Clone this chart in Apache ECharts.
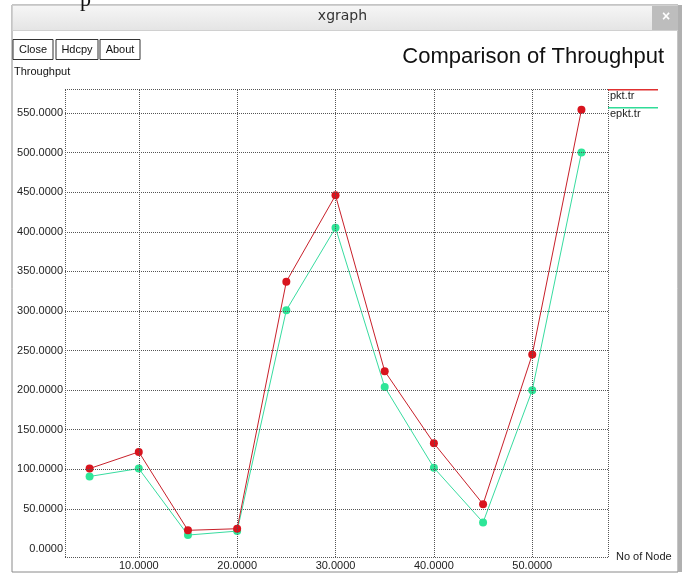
<!DOCTYPE html>
<html>
<head>
<meta charset="utf-8">
<script src="https://cdn.jsdelivr.net/npm/echarts@6/dist/echarts.min.js"></script>
<style>
html,body{margin:0;padding:0;background:#fff;}
#c{width:685px;height:576px;}
</style>
</head>
<body>
<div id="c"></div>
<script>
var xValues = [5, 10, 15, 20, 25, 30, 35, 40, 45, 50, 55];
var pktTr = [101, 122, 23, 25, 337, 446, 224, 133, 56, 245, 554];
var epktTr = [91, 101, 17, 22, 301, 405, 204, 102, 33, 200, 500];
var xTicks = [10, 20, 30, 40, 50];
var yTicks = [0, 50, 100, 150, 200, 250, 300, 350, 400, 450, 500, 550];
var xRange = [2.5, 57.7];
var yRange = [-10.7, 580.3];

var FONT = 'Liberation Sans, Arial, sans-serif';
var GRID_STYLE = {color: '#555', type: 'dotted', width: 1};

function pairs(ys) {
  return xValues.map(function (x, i) { return [x, ys[i]]; });
}

var gridLines = [];
yTicks.forEach(function (v) {
  gridLines.push({
    yAxis: v,
    lineStyle: v === 0 ? {color: 'rgba(0,0,0,0)', type: 'dotted', width: 1} : GRID_STYLE,
    label: {show: true, position: 'start', formatter: v.toFixed(4), distance: 2,
      color: '#222', fontSize: 11, fontFamily: FONT}
  });
});
xTicks.forEach(function (v) {
  gridLines.push({
    xAxis: v,
    lineStyle: GRID_STYLE,
    label: {show: true, position: 'start', formatter: v.toFixed(4), distance: 3,
      color: '#222', fontSize: 11, fontFamily: FONT}
  });
});
[xRange[0], xRange[1]].forEach(function (v) {
  gridLines.push({xAxis: v, lineStyle: GRID_STYLE, label: {show: false}});
});
[yRange[0], yRange[1]].forEach(function (v) {
  gridLines.push({yAxis: v, lineStyle: GRID_STYLE, label: {show: false}});
});

var chart = echarts.init(document.getElementById('c'), null, {renderer: 'canvas'});
chart.setOption({
  animation: false,
  backgroundColor: '#fff',
  textStyle: {fontFamily: FONT},
  grid: {left: 65, right: 77, top: 89, bottom: 19, containLabel: false},
  xAxis: {
    type: 'value', min: xRange[0], max: xRange[1],
    axisLine: {show: false}, axisTick: {show: false},
    axisLabel: {show: false}, splitLine: {show: false}
  },
  yAxis: {
    type: 'value', min: yRange[0], max: yRange[1],
    axisLine: {show: false}, axisTick: {show: false},
    axisLabel: {show: false}, splitLine: {show: false}
  },
  graphic: [
    // window frame
    {type: 'rect', shape: {x: 12, y: 5, width: 666, height: 567},
      style: {fill: '#fff', stroke: '#8a8a8a', lineWidth: 1}, z: -10},
    {type: 'rect', shape: {x: 678, y: 5, width: 4, height: 567},
      style: {fill: '#b0b0b0'}, z: -10},
    {type: 'rect', shape: {x: 12.5, y: 5.5, width: 665, height: 25},
      style: {fill: new echarts.graphic.LinearGradient(0, 0, 0, 1,
        [{offset: 0, color: '#f6f6f6'}, {offset: 1, color: '#e4e4e4'}]), stroke: '#d0d0d0'}, z: -9},
    {type: 'rect', shape: {x: 652, y: 6, width: 26, height: 24},
      style: {fill: '#bdbdbd'}, z: -8},
    {type: 'text', left: 662, top: 10,
      style: {text: '×', fill: '#fff', font: 'bold 14px ' + FONT}},
    {type: 'text', left: 'center', top: 9,
      style: {text: 'xgraph', fill: '#333', font: '14px DejaVu Sans, sans-serif'}},
    // cropped page glyph
    {type: 'text', left: 80, top: -11,
      style: {text: 'p', fill: '#111', font: '22px Liberation Serif, serif'}},
    // buttons
    {type: 'rect', shape: {x: 13, y: 39.5, width: 40, height: 20},
      style: {fill: '#fff', stroke: '#333', lineWidth: 1}},
    {type: 'text', x: 33, y: 49.5,
      style: {text: 'Close', fill: '#111', font: '11px ' + FONT, align: 'center', verticalAlign: 'middle'}},
    {type: 'rect', shape: {x: 56, y: 39.5, width: 42, height: 20},
      style: {fill: '#fff', stroke: '#333', lineWidth: 1}},
    {type: 'text', x: 77, y: 49.5,
      style: {text: 'Hdcpy', fill: '#111', font: '11px ' + FONT, align: 'center', verticalAlign: 'middle'}},
    {type: 'rect', shape: {x: 100, y: 39.5, width: 40, height: 20},
      style: {fill: '#fff', stroke: '#333', lineWidth: 1}},
    {type: 'text', x: 120, y: 49.5,
      style: {text: 'About', fill: '#111', font: '11px ' + FONT, align: 'center', verticalAlign: 'middle'}},
    // labels
    {type: 'text', x: 14, y: 72,
      style: {text: 'Throughput', fill: '#111', font: '11px ' + FONT, verticalAlign: 'middle'}},
    {type: 'text', x: 664, y: 57,
      style: {text: 'Comparison of Throughput', fill: '#111', font: '22px ' + FONT, align: 'right', verticalAlign: 'middle'}},
    {type: 'text', x: 616, y: 557,
      style: {text: 'No of Node', fill: '#222', font: '11px ' + FONT, verticalAlign: 'middle'}},
    // legend
    {type: 'rect', shape: {x: 608, y: 89, width: 50, height: 1.4},
      style: {fill: '#e03030'}, z: 10},
    {type: 'text', x: 610, y: 96,
      style: {text: 'pkt.tr', fill: '#222', font: '11px ' + FONT, verticalAlign: 'middle'}},
    {type: 'rect', shape: {x: 608, y: 107, width: 50, height: 1.4},
      style: {fill: '#30dc98'}, z: 10},
    {type: 'text', x: 610, y: 114,
      style: {text: 'epkt.tr', fill: '#222', font: '11px ' + FONT, verticalAlign: 'middle'}}
  ],
  series: [
    {
      name: 'grid', type: 'line', data: [], z: 1, silent: true,
      markLine: {silent: true, symbol: ['none', 'none'], animation: false, data: gridLines}
    },
    {
      name: 'pkt.tr', type: 'line', data: pairs(pktTr), z: 4,
      symbol: 'circle', symbolSize: 8,
      lineStyle: {color: '#c8202a', width: 1},
      itemStyle: {color: '#d8141e'}
    },
    {
      name: 'epkt.tr', type: 'line', data: pairs(epktTr), z: 3,
      symbol: 'circle', symbolSize: 8,
      lineStyle: {color: '#38dca0', width: 1},
      itemStyle: {color: '#2ee698'}
    }
  ]
});
</script>
</body>
</html>
